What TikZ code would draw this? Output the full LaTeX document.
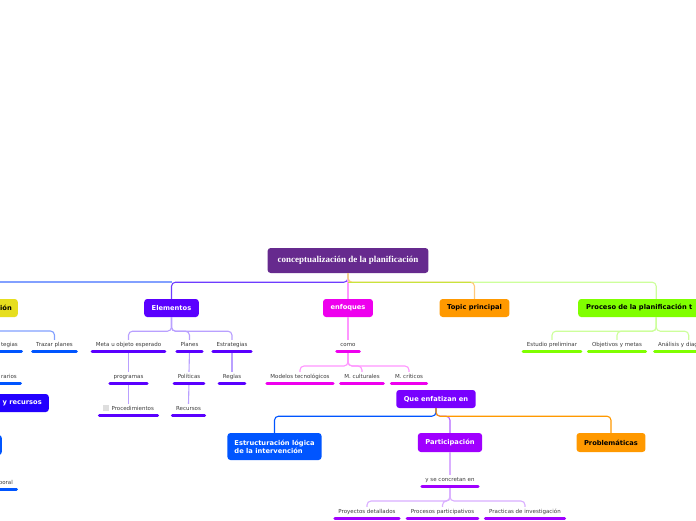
\documentclass[tikz,border=0pt]{standalone}
\usepackage{fontspec}
\setmainfont{DejaVu Sans}
\newfontfamily\rootfont{Liberation Serif}
\usepackage{xcolor}
\usepackage{tikz}
\usetikzlibrary{positioning, calc}

\definecolor{rootpurple}{RGB}{102,42,142}
\definecolor{elemviolet}{RGB}{90,0,255}
\definecolor{eleml}{RGB}{185,160,255}
\definecolor{elemline}{RGB}{110,60,255}
\definecolor{enfmag}{RGB}{238,0,238}
\definecolor{enfl}{RGB}{255,150,255}
\definecolor{orangec}{RGB}{255,153,0}
\definecolor{orangel}{RGB}{255,200,120}
\definecolor{greenc}{RGB}{128,255,0}
\definecolor{greenl}{RGB}{205,255,155}
\definecolor{limel}{RGB}{200,228,60}
\definecolor{yellowc}{RGB}{230,222,30}
\definecolor{bluel}{RGB}{130,160,255}
\definecolor{bluedeep}{RGB}{34,0,255}
\definecolor{bluebright}{RGB}{0,85,255}
\definecolor{queviolet}{RGB}{120,0,255}
\definecolor{partpurple}{RGB}{160,0,255}
\definecolor{partl}{RGB}{180,100,255}
\definecolor{concrl}{RGB}{218,175,255}
\definecolor{leafgray}{RGB}{60,60,60}
\definecolor{boxgray}{RGB}{222,222,222}

\begin{document}
\begin{tikzpicture}[x=1pt, y=-1pt,
	topic/.style={rounded corners=3pt, font=\bfseries\fontsize{6.7}{8}\selectfont, text=white, minimum height=18pt, inner xsep=7.5pt, inner ysep=0pt},
	leaf/.style={font=\fontsize{5.5}{6.5}\selectfont, text=leafgray, inner xsep=3.5pt, inner ysep=2.7pt, text height=4pt, text depth=1.3pt, anchor=south},
	uline/.style={line width=3pt, line cap=round},
	link/.style={line width=1.1pt, rounded corners=4pt}]

	\path[use as bounding box, fill=white] (0,0) rectangle (696,520);

	% main topics
	\node[topic, fill=rootpurple, font=\rootfont\bfseries\fontsize{9}{10}\selectfont, minimum height=25pt, inner xsep=10pt] (root) at (348,260.5) {conceptualización de la planificación};
	\node[topic, fill=yellowc, text=black, anchor=east, text width=40pt, align=right, inner xsep=6pt] (planif) at (18,308) {ión};
	\node[topic, fill=elemviolet] (elem) at (171.5,308) {Elementos};
	\node[topic, fill=enfmag] (enf) at (348,308) {enfoques};
	\node[topic, fill=orangec, text=black] (topicp) at (474.5,308) {Topic principal};
	\node[topic, fill=greenc, text=black, anchor=west, text width=140pt, align=left, inner xsep=8pt] (proc) at (578,308) {Proceso de la planificación t};

	\node[topic, fill=bluedeep, anchor=east, text width=70pt, align=right, inner xsep=7pt] (yrec) at (49,403) {y recursos};
	\node[topic, fill=bluebright, anchor=east, minimum width=30pt, minimum height=20pt] (hidn) at (2,445) {};

	\node[topic, fill=queviolet] (que) at (436,399) {Que enfatizan en};
	\node[topic, fill=bluebright, align=left, minimum height=27pt, inner xsep=7pt] (estruc) at (274.5,446.5) {Estructuración lógica\\de la intervención};
	\node[topic, fill=partpurple, minimum height=19pt] (part) at (450,442.5) {Participación};
	\node[topic, fill=orangec, text=black, minimum height=19pt] (probl) at (611,442.5) {Problemáticas};

	% leaves
	\node[leaf, anchor=south east] (tegias) at (21.5,351) {tegias};
	\node[leaf] (trazar) at (54.5,351) {Trazar planes};
	\node[leaf, anchor=south east] (rarios) at (20.5,383) {rarios};
	\node[leaf, anchor=south east] (poral) at (16.5,489) {poral};

	\node[leaf] (meta) at (128.5,351) {Meta u objeto esperado};
	\node[leaf] (planes) at (189.5,351) {Planes};
	\node[leaf] (estrat) at (232,351) {Estrategias};
	\node[leaf] (prog) at (128.5,383) {programas};
	\node[leaf] (polit) at (189,383) {Políticas};
	\node[leaf] (reglas) at (232,383) {Reglas};
	\node[leaf] (proced) at (128.5,415) {\textcolor{boxgray}{\rule[-0.4pt]{6pt}{6pt}}\hspace{2.5pt}Procedimientos};
	\node[leaf] (recur) at (188.5,415) {Recursos};

	\node[leaf] (como) at (348,351) {como};
	\node[leaf] (modelos) at (300,383) {Modelos tecnológicos};
	\node[leaf] (cult) at (362,383) {M. culturales};
	\node[leaf] (crit) at (409,383) {M. críticos};

	\node[leaf] (estudio) at (552,351) {Estudio preliminar};
	\node[leaf] (objet) at (617,351) {Objetivos y metas};
	\node[leaf, anchor=south west, text width=61pt, align=left] (analisis) at (654.5,351) {Análisis y diag};

	\node[leaf] (concr) at (450,486) {y se concretan en};
	\node[leaf] (proy) at (367,518) {Proyectos detallados};
	\node[leaf] (procpart) at (442.5,518) {Procesos participativos};
	\node[leaf] (pract) at (525,518) {Practicas de investigación};

	% connectors from the root
	\coordinate (rbus) at ([yshift=-9pt]root.south);
	\coordinate (offleft) at (-10,282);
	\draw[link, draw=bluel] (offleft) -- (offleft -| elem.north);
	\draw[link, draw=elemline] (root.south) -- ++(0,9) -| (elem.north);
	\draw[link, draw=enfl] (root.south) -- (enf.north);
	\draw[link, draw=greenl] (root.south) -- ++(0,9) -| (proc.north);
	\draw[link, draw=orangel] (root.south) -- ++(0,9) -| (topicp.north);
	\draw[link, draw=limel] (rbus) -- ([xshift=-4pt]rbus -| topicp.north);

	\coordinate (lbus) at (-20,331);
	\draw[link, draw=bluel] (lbus) -| (trazar.north);

	\foreach \n in {meta, planes, estrat}
		\draw[link, draw=eleml] (elem.south) -- ++(0,14) -| (\n.north);
	\draw[link, draw=eleml] (meta.south) -- (prog.north);
	\draw[link, draw=eleml] (prog.south) -- (proced.north);
	\draw[link, draw=eleml] (planes.south) -- (polit.north);
	\draw[link, draw=eleml] (polit.south) -- (recur.north);
	\draw[link, draw=eleml] (estrat.south) -- (reglas.north);

	\draw[link, draw=enfl] (enf.south) -- (como.north);
	\foreach \n in {modelos, cult, crit}
		\draw[link, draw=enfl] (como.south) -- ++(0,15) -| (\n.north);

	\foreach \n in {estudio, objet, analisis}
		\draw[link, draw=greenl] (proc.south) -- ++(0,14) -| (\n.north);

	\draw[link, draw=partl] (que.south) -- ++(0,8) -| (part.north);
	\draw[link, draw=bluebright] (que.south) -- ++(0,8) -| (estruc.north);
	\draw[link, draw=orangec] (que.south) -- ++(0,8) -| (probl.north);

	\draw[link, draw=concrl] (part.south) -- (concr.north);
	\foreach \n in {proy, procpart, pract}
		\draw[link, draw=concrl] (concr.south) -- ++(0,15) -| (\n.north);

	% underlines
	\foreach \n in {tegias, trazar, rarios, poral}
		\draw[uline, draw=bluebright] (\n.south west) -- (\n.south east);
	\foreach \n in {meta, planes, estrat, prog, polit, reglas, proced, recur}
		\draw[uline, draw=elemviolet] (\n.south west) -- (\n.south east);
	\foreach \n in {como, modelos, cult, crit}
		\draw[uline, draw=enfmag] (\n.south west) -- (\n.south east);
	\foreach \n in {estudio, objet, analisis}
		\draw[uline, draw=greenc] (\n.south west) -- (\n.south east);
	\foreach \n in {concr, proy, procpart, pract}
		\draw[uline, draw=partpurple] (\n.south west) -- (\n.south east);

\end{tikzpicture}
\end{document}
